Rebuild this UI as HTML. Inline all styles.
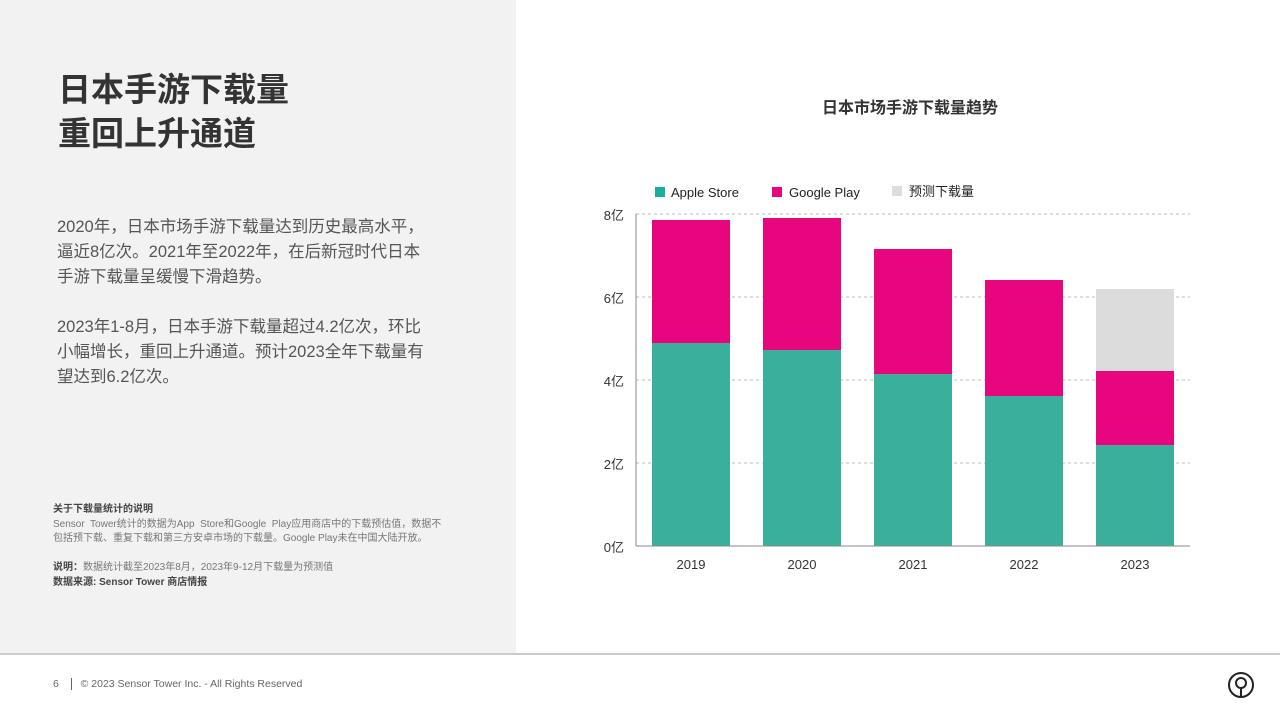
<!DOCTYPE html>
<html><head><meta charset="utf-8"><style>
body{margin:0;width:1280px;height:720px;position:relative;background:#fff;font-family:"Liberation Sans","Noto Sans CJK SC",sans-serif;overflow:hidden}
.left{position:absolute;left:0;top:0;width:516px;height:654px;background:#f2f2f2}
.t{position:absolute;left:58px;top:68px;font-size:33px;font-weight:bold;color:#333;line-height:44px;white-space:nowrap}
.p{position:absolute;left:57px;top:215px;font-size:16.5px;color:#555;line-height:25px;white-space:nowrap}
.n{position:absolute;left:53px;top:503px;font-size:10px;color:#777;line-height:14.5px;white-space:nowrap}
.n b{color:#444}
.line{position:absolute;left:0;top:653px;width:1280px;height:2px;background:#ccc}
.f{position:absolute;left:53px;top:678px;font-size:10.5px;color:#666}
</style></head><body>
<div class="left"></div>
<div class="t">日本手游下载量<br>重回上升通道</div>
<div class="p">2020年，日本市场手游下载量达到历史最高水平，<br>逼近8亿次。2021年至2022年，在后新冠时代日本<br>手游下载量呈缓慢下滑趋势。<br><br>2023年1-8月，日本手游下载量超过4.2亿次，环比<br>小幅增长，重回上升通道。预计2023全年下载量有<br>望达到6.2亿次。</div>
<div class="n"><b>关于下载量统计的说明</b><br>Sensor&nbsp; Tower统计的数据为App&nbsp; Store和Google&nbsp; Play应用商店中的下载预估值，数据不<br>包括预下载、重复下载和第三方安卓市场的下载量。Google Play未在中国大陆开放。<br><br><b>说明：</b>数据统计截至2023年8月，2023年9-12月下载量为预测值<br><b>数据来源: Sensor Tower 商店情报</b></div>
<div class="line"></div>
<div class="f">6 &nbsp;<span style="border-left:1px solid #666;margin:0 6px"></span>&nbsp;© 2023 Sensor Tower Inc. - All Rights Reserved</div>
<svg width="1280" height="720" style="position:absolute;left:0;top:0" font-family="Liberation Sans,Noto Sans CJK SC,sans-serif">
<text x="910" y="113" font-size="16" font-weight="bold" fill="#333" text-anchor="middle">日本市场手游下载量趋势</text>
<rect x="655" y="187" width="10" height="10" fill="#1aae9f"/><text x="671" y="197" font-size="13" fill="#222">Apple Store</text>
<rect x="772" y="187" width="10" height="10" fill="#e8067e"/><text x="789" y="197" font-size="13" fill="#222">Google Play</text>
<rect x="892" y="186" width="10" height="10" fill="#ddd"/><text x="909" y="196" font-size="13" fill="#222">预测下载量</text>
<g stroke="#bbb" stroke-dasharray="3,3"><line x1="636" y1="214" x2="1190" y2="214"/><line x1="636" y1="297" x2="1190" y2="297"/><line x1="636" y1="380" x2="1190" y2="380"/><line x1="636" y1="463" x2="1190" y2="463"/></g>
<g font-size="13" fill="#333" text-anchor="end"><text x="624" y="220">8亿</text><text x="624" y="303">6亿</text><text x="624" y="386">4亿</text><text x="624" y="469">2亿</text><text x="624" y="552">0亿</text></g>
<g fill="#e8067e"><rect x="652" y="220" width="78" height="124"/><rect x="763" y="218" width="78" height="133"/><rect x="874" y="249" width="78" height="126"/><rect x="985" y="280" width="78" height="117"/><rect x="1096" y="371" width="78" height="75"/></g>
<rect x="1096" y="289" width="78" height="82" fill="#dcdcdc"/>
<g fill="#3aaf9c"><rect x="652" y="343" width="78" height="203"/><rect x="763" y="350" width="78" height="196"/><rect x="874" y="374" width="78" height="172"/><rect x="985" y="396" width="78" height="150"/><rect x="1096" y="445" width="78" height="101"/></g>
<line x1="636" y1="214" x2="636" y2="546" stroke="#888"/><line x1="636" y1="546" x2="1190" y2="546" stroke="#888"/>
<g font-size="13" fill="#333" text-anchor="middle"><text x="691" y="569">2019</text><text x="802" y="569">2020</text><text x="913" y="569">2021</text><text x="1024" y="569">2022</text><text x="1135" y="569">2023</text></g>
<circle cx="1241" cy="685" r="12" fill="none" stroke="#222" stroke-width="2"/><circle cx="1241" cy="683" r="5" fill="none" stroke="#222" stroke-width="2"/><line x1="1241" y1="688" x2="1241" y2="696" stroke="#222" stroke-width="2"/>
</svg>
</body></html>
